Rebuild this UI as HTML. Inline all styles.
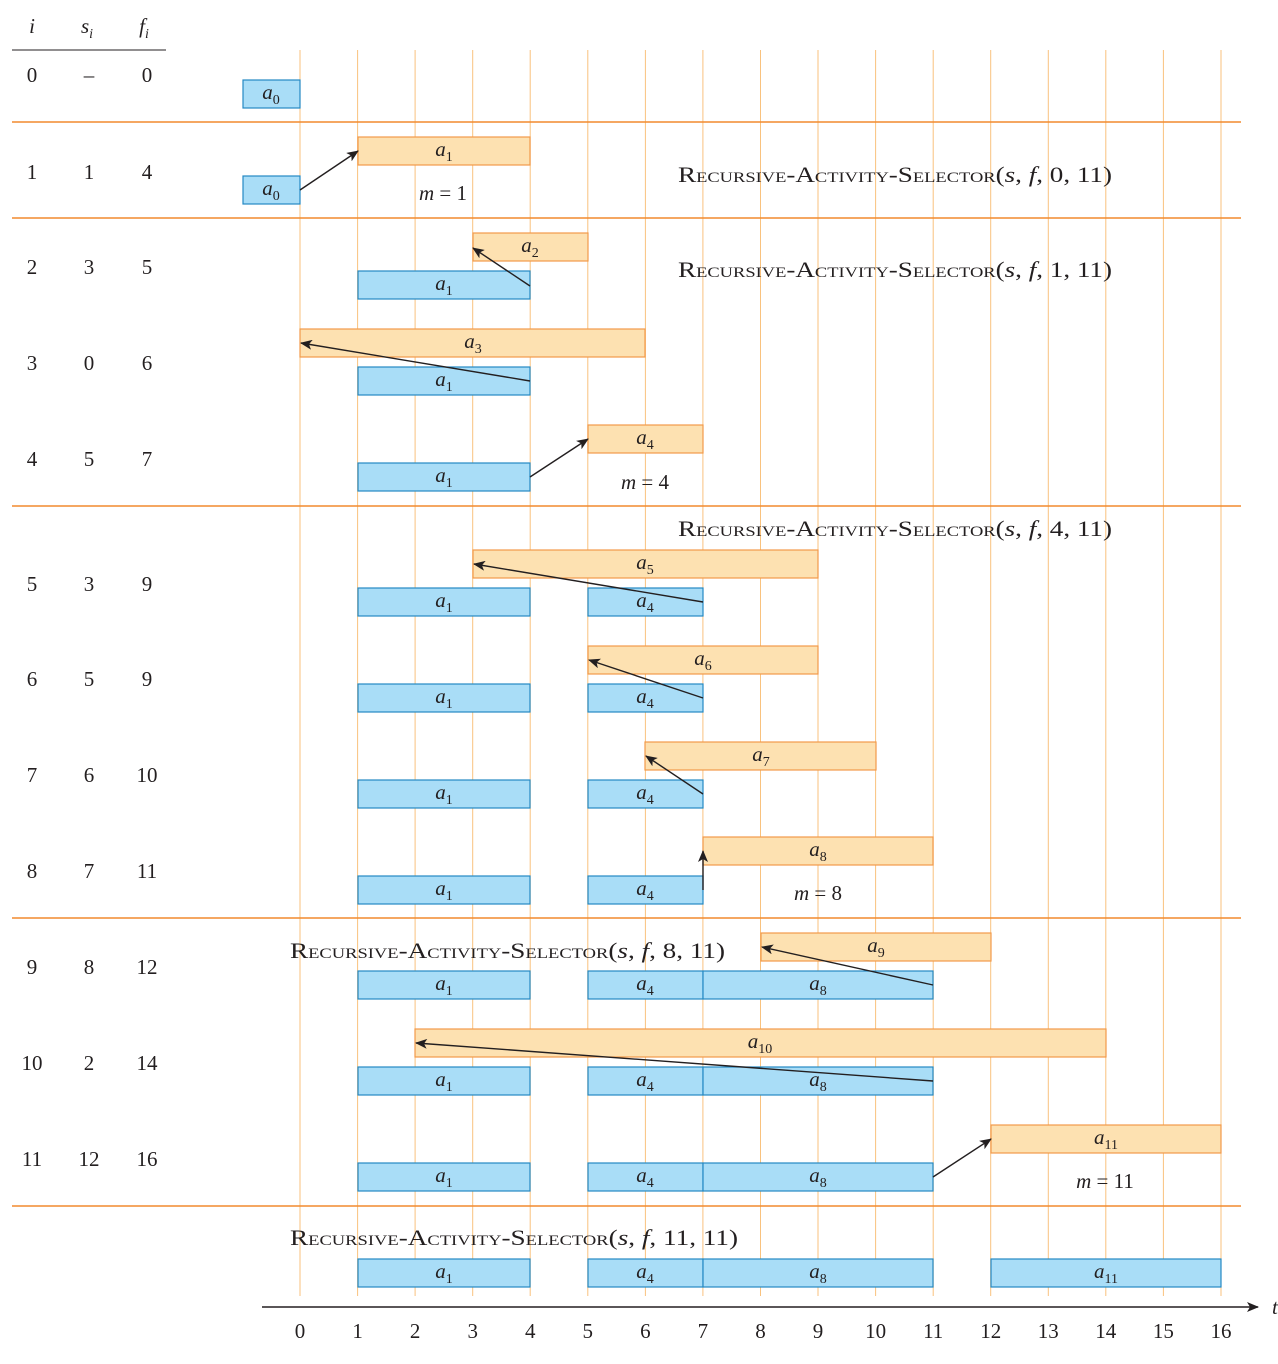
<!DOCTYPE html>
<html><head><meta charset="utf-8"><style>
body{margin:0;background:#fff}
text{font-family:"Liberation Serif",serif;font-size:21px;fill:#231f20}
.l{text-anchor:middle;font-style:italic}
.l tspan{font-style:normal}
.l tspan.it{font-style:italic}
.c{font-variant:small-caps;font-size:22px}
.c tspan{font-variant:normal;font-style:italic}
.b{fill:#a9ddf7;stroke:#2489c3;stroke-width:1.2}
.o{fill:#fde1b1;stroke:#f29a4a;stroke-width:1.2}
.g{stroke:#f9c27e;stroke-width:1}
.s{stroke:#f28a2e;stroke-width:1.6}
.a{stroke:#231f20;stroke-width:1.4;marker-end:url(#ar)}
</style></head><body>
<svg width="1278" height="1359" xmlns="http://www.w3.org/2000/svg">
<defs><marker id="ar" markerWidth="12" markerHeight="10" refX="11" refY="5" orient="auto" markerUnits="userSpaceOnUse"><path d="M0,0 L12,5 L0,10 L3,5 Z" fill="#231f20"/></marker></defs>
<g class="g">
<line x1="300" y1="50" x2="300" y2="1296"/><line x1="357.6" y1="50" x2="357.6" y2="1296"/><line x1="415.1" y1="50" x2="415.1" y2="1296"/><line x1="472.7" y1="50" x2="472.7" y2="1296"/><line x1="530.2" y1="50" x2="530.2" y2="1296"/><line x1="587.8" y1="50" x2="587.8" y2="1296"/><line x1="645.4" y1="50" x2="645.4" y2="1296"/><line x1="702.9" y1="50" x2="702.9" y2="1296"/><line x1="760.5" y1="50" x2="760.5" y2="1296"/><line x1="818" y1="50" x2="818" y2="1296"/><line x1="875.6" y1="50" x2="875.6" y2="1296"/><line x1="933.2" y1="50" x2="933.2" y2="1296"/><line x1="990.7" y1="50" x2="990.7" y2="1296"/><line x1="1048.3" y1="50" x2="1048.3" y2="1296"/><line x1="1105.8" y1="50" x2="1105.8" y2="1296"/><line x1="1163.4" y1="50" x2="1163.4" y2="1296"/><line x1="1221" y1="50" x2="1221" y2="1296"/>
</g>
<g class="s"><line x1="12" y1="122" x2="1241" y2="122"/><line x1="12" y1="218" x2="1241" y2="218"/><line x1="12" y1="506" x2="1241" y2="506"/><line x1="12" y1="918" x2="1241" y2="918"/><line x1="12" y1="1206" x2="1241" y2="1206"/></g>
<line x1="12" y1="50" x2="166" y2="50" stroke="#231f20" stroke-width="1"/>
<text class="l" x="32" y="33">i</text><text class="l" x="87" y="33">s<tspan class="it" font-size="14" dy="5">i</tspan></text><text class="l" x="144" y="33">f<tspan class="it" font-size="14" dy="5">i</tspan></text>
<g text-anchor="middle">
<text x="32" y="82">0</text><text x="89" y="82">–</text><text x="147" y="82">0</text>
<text x="32" y="179">1</text><text x="89" y="179">1</text><text x="147" y="179">4</text>
<text x="32" y="274">2</text><text x="89" y="274">3</text><text x="147" y="274">5</text>
<text x="32" y="370">3</text><text x="89" y="370">0</text><text x="147" y="370">6</text>
<text x="32" y="466">4</text><text x="89" y="466">5</text><text x="147" y="466">7</text>
<text x="32" y="591">5</text><text x="89" y="591">3</text><text x="147" y="591">9</text>
<text x="32" y="686">6</text><text x="89" y="686">5</text><text x="147" y="686">9</text>
<text x="32" y="782">7</text><text x="89" y="782">6</text><text x="147" y="782">10</text>
<text x="32" y="878">8</text><text x="89" y="878">7</text><text x="147" y="878">11</text>
<text x="32" y="974">9</text><text x="89" y="974">8</text><text x="147" y="974">12</text>
<text x="32" y="1070">10</text><text x="89" y="1070">2</text><text x="147" y="1070">14</text>
<text x="32" y="1166">11</text><text x="89" y="1166">12</text><text x="147" y="1166">16</text>
</g>
<rect class="b" x="243" y="80" width="57" height="28"/><text class="l" x="271" y="99">a<tspan font-size="14" dy="5">0</tspan></text>
<rect class="o" x="358" y="137" width="172" height="28"/><text class="l" x="444" y="156">a<tspan font-size="14" dy="5">1</tspan></text>
<rect class="b" x="243" y="176" width="57" height="28"/><text class="l" x="271" y="195">a<tspan font-size="14" dy="5">0</tspan></text>
<rect class="o" x="473" y="233" width="115" height="28"/><text class="l" x="530" y="252">a<tspan font-size="14" dy="5">2</tspan></text>
<rect class="o" x="300" y="329" width="345" height="28"/><text class="l" x="473" y="348">a<tspan font-size="14" dy="5">3</tspan></text>
<rect class="o" x="588" y="425" width="115" height="28"/><text class="l" x="645" y="444">a<tspan font-size="14" dy="5">4</tspan></text>
<rect class="o" x="473" y="550" width="345" height="28"/><text class="l" x="645" y="569">a<tspan font-size="14" dy="5">5</tspan></text>
<rect class="o" x="588" y="646" width="230" height="28"/><text class="l" x="703" y="665">a<tspan font-size="14" dy="5">6</tspan></text>
<rect class="o" x="645" y="742" width="231" height="28"/><text class="l" x="761" y="761">a<tspan font-size="14" dy="5">7</tspan></text>
<rect class="o" x="703" y="837" width="230" height="28"/><text class="l" x="818" y="856">a<tspan font-size="14" dy="5">8</tspan></text>
<rect class="o" x="761" y="933" width="230" height="28"/><text class="l" x="876" y="952">a<tspan font-size="14" dy="5">9</tspan></text>
<rect class="o" x="415" y="1029" width="691" height="28"/><text class="l" x="760" y="1048">a<tspan font-size="14" dy="5">10</tspan></text>
<rect class="o" x="991" y="1125" width="230" height="28"/><text class="l" x="1106" y="1144">a<tspan font-size="14" dy="5">11</tspan></text>
<g id="a1r">
<rect class="b" x="358" y="271" width="172" height="28"/><text class="l" x="444" y="290">a<tspan font-size="14" dy="5">1</tspan></text>
</g>
<use href="#a1r" y="96"/><use href="#a1r" y="192"/>
<g id="r5"><rect class="b" x="358" y="588" width="172" height="28"/><text class="l" x="444" y="607">a<tspan font-size="14" dy="5">1</tspan></text>
<rect class="b" x="588" y="588" width="115" height="28"/><text class="l" x="645" y="607">a<tspan font-size="14" dy="5">4</tspan></text></g>
<use href="#r5" y="96"/><use href="#r5" y="192"/><use href="#r5" y="288"/>
<g id="r9"><use href="#r5" y="383"/><rect class="b" x="703" y="971" width="230" height="28"/><text class="l" x="818" y="990">a<tspan font-size="14" dy="5">8</tspan></text></g>
<use href="#r9" y="96"/><use href="#r9" y="192"/><use href="#r9" y="288"/>
<rect class="b" x="991" y="1259" width="230" height="28"/><text class="l" x="1106" y="1278">a<tspan font-size="14" dy="5">11</tspan></text>
<line class="a" x1="300" y1="190" x2="358" y2="151"/>
<line class="a" x1="530" y1="286" x2="473" y2="248"/>
<line class="a" x1="530" y1="381" x2="301" y2="343"/>
<line class="a" x1="530" y1="477" x2="588" y2="439"/>
<line class="a" x1="703" y1="602" x2="474" y2="564"/>
<line class="a" x1="703" y1="698" x2="589" y2="660"/>
<line class="a" x1="703" y1="794" x2="646" y2="756"/>
<line class="a" x1="703" y1="890" x2="703" y2="851"/>
<line class="a" x1="933" y1="985" x2="762" y2="947"/>
<line class="a" x1="933" y1="1081" x2="416" y2="1043"/>
<line class="a" x1="933" y1="1177" x2="991" y2="1139"/>
<text class="c" x="678" y="182" textLength="434" lengthAdjust="spacingAndGlyphs">Recursive-Activity-Selector(<tspan>s</tspan>, <tspan>f</tspan>, 0, 11)</text>
<text class="c" x="678" y="277" textLength="434" lengthAdjust="spacingAndGlyphs">Recursive-Activity-Selector(<tspan>s</tspan>, <tspan>f</tspan>, 1, 11)</text>
<text class="c" x="678" y="536" textLength="434" lengthAdjust="spacingAndGlyphs">Recursive-Activity-Selector(<tspan>s</tspan>, <tspan>f</tspan>, 4, 11)</text>
<text class="c" x="290" y="958" textLength="435" lengthAdjust="spacingAndGlyphs">Recursive-Activity-Selector(<tspan>s</tspan>, <tspan>f</tspan>, 8, 11)</text>
<text class="c" x="290" y="1245" textLength="448" lengthAdjust="spacingAndGlyphs">Recursive-Activity-Selector(<tspan>s</tspan>, <tspan>f</tspan>, 11, 11)</text>
<g text-anchor="middle">
<text x="443" y="200"><tspan font-style="italic">m</tspan> = 1</text>
<text x="645" y="489"><tspan font-style="italic">m</tspan> = 4</text>
<text x="818" y="900"><tspan font-style="italic">m</tspan> = 8</text>
<text x="1105" y="1188"><tspan font-style="italic">m</tspan> = 11</text>
</g>
<line x1="262" y1="1307" x2="1258" y2="1307" stroke="#231f20" stroke-width="1.4" marker-end="url(#ar)"/>
<text x="1272" y="1314" font-style="italic">t</text>
<g text-anchor="middle">
<text x="300" y="1338">0</text><text x="357.6" y="1338">1</text><text x="415.1" y="1338">2</text><text x="472.7" y="1338">3</text><text x="530.2" y="1338">4</text><text x="587.8" y="1338">5</text><text x="645.4" y="1338">6</text><text x="702.9" y="1338">7</text><text x="760.5" y="1338">8</text><text x="818" y="1338">9</text><text x="875.6" y="1338">10</text><text x="933.2" y="1338">11</text><text x="990.7" y="1338">12</text><text x="1048.3" y="1338">13</text><text x="1105.8" y="1338">14</text><text x="1163.4" y="1338">15</text><text x="1221" y="1338">16</text>
</g>
</svg>
</body></html>
